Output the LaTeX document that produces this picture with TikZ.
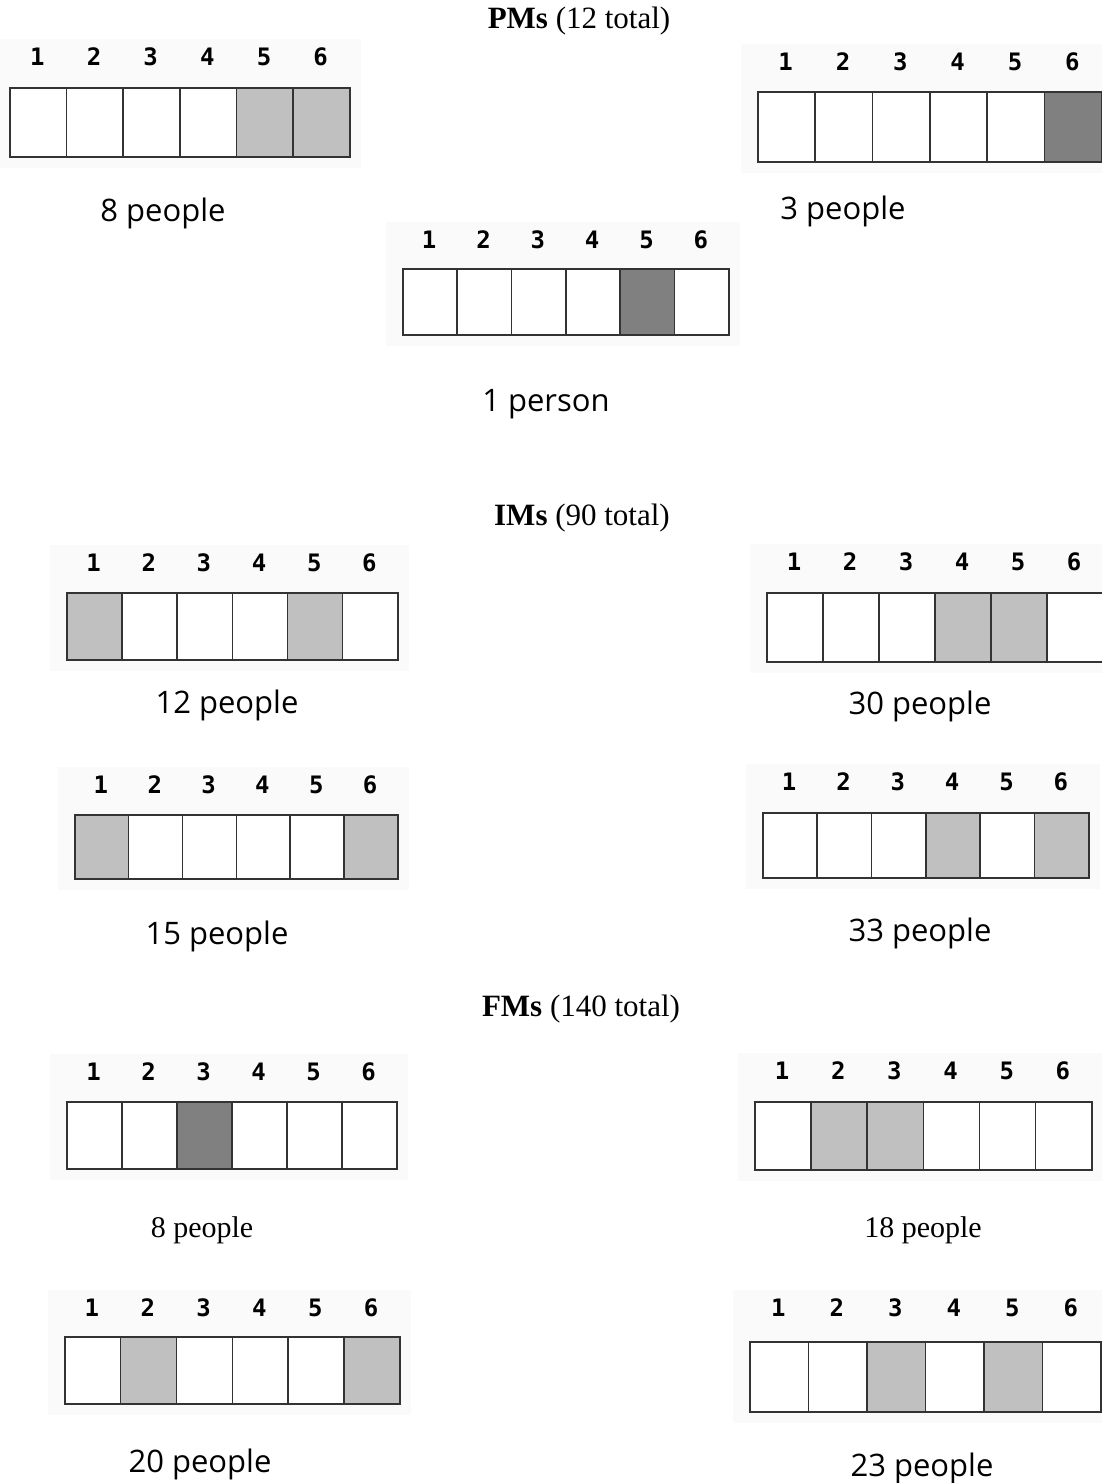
\documentclass[tikz,border=0pt]{standalone}
\usepackage{fontspec}
\setmainfont{Liberation Serif}
\newfontfamily\comicfont{Open Sans}
\newfontfamily\pixfont{DejaVu Sans Mono}
\usepackage{tikz}
\definecolor{lite}{HTML}{C0C0C0}
\definecolor{deep}{HTML}{808080}
\definecolor{paper}{HTML}{FAFAFA}
\tikzset{slot/.style={draw=black!80, line width=1.6pt, inner sep=0pt, anchor=north west},
 digit/.style={font=\pixfont\bfseries\fontsize{24}{24}\selectfont},
 tally/.style={font=\comicfont\fontsize{31}{31}\selectfont},
 count/.style={font=\fontsize{30}{30}\selectfont},
 head/.style={font=\fontsize{31}{31}\selectfont},
 }
% one row of six slots: name, left, right, top, bottom, digit row, fills
\newcommand{\slotrow}[7]{%
  \pgfmathsetmacro{\cw}{(#3-#2)/6}
  \pgfmathsetmacro{\ch}{#5-#4}
  \fill[paper] (#2-16,#6-18) rectangle (#3+12,#5+12);
  \foreach \f [count=\i] in {#7} {
    \node[slot, fill=\f, minimum width=\cw pt, minimum height=\ch pt] (#1-\i) at ({#2+(\i-1)*\cw},#4) {};
    \node[digit] (#1-d\i) at ({#2+(\i-0.5)*\cw},#6) {\i};
  }
}

\begin{document}
\begin{tikzpicture}[x=1pt,y=-1pt]
  \useasboundingbox (0,0) rectangle (1102,1483);
  % PMs
  \node[head] (pmhead) at (579,21) {\textbf{PMs} (12 total)};
  \slotrow{pmA}{9}{349}{87}{156}{57}{white,white,white,white,lite,lite}
  \slotrow{pmB}{757}{1101}{91}{161}{62}{white,white,white,white,white,deep}
  \slotrow{pmC}{402}{728}{268}{334}{240}{white,white,white,white,deep,white}
  \node[tally] (pmAtxt) at (163,213) {8 people};
  \node[tally] (pmBtxt) at (843,211) {3 people};
  \node[tally] (pmCtxt) at (546,404) {1 person};
  % IMs
  \node[head] (imhead) at (582,518) {\textbf{IMs} (90 total)};
  \slotrow{imA}{66}{397}{592}{659}{563}{lite,white,white,white,lite,white}
  \slotrow{imB}{766}{1102}{592}{661}{562}{white,white,white,lite,lite,white}
  \slotrow{imC}{74}{397}{814}{878}{785}{lite,white,white,white,white,lite}
  \slotrow{imD}{762}{1088}{812}{877}{782}{white,white,white,lite,white,lite}
  \node[tally] (imAtxt) at (227,705) {12 people};
  \node[tally] (imBtxt) at (920,706) {30 people};
  \node[tally] (imCtxt) at (217,936) {15 people};
  \node[tally] (imDtxt) at (920,933) {33 people};
  % FMs
  \node[head] (fmhead) at (581,1009) {\textbf{FMs} (140 total)};
  \slotrow{fmA}{66}{396}{1101}{1168}{1072}{white,white,deep,white,white,white}
  \slotrow{fmB}{754}{1091}{1101}{1169}{1071}{white,lite,lite,white,white,white}
  \slotrow{fmC}{64}{399}{1336}{1403}{1308}{white,lite,white,white,white,lite}
  \slotrow{fmD}{749}{1100}{1341}{1411}{1308}{white,white,lite,white,lite,white}
  \node[count] (fmAtxt) at (202,1230) {8 people};
  \node[count] (fmBtxt) at (923,1230) {18 people};
  \node[tally] (fmCtxt) at (200,1464) {20 people};
  \node[tally] (fmDtxt) at (922,1468) {23 people};
\end{tikzpicture}
\end{document}
